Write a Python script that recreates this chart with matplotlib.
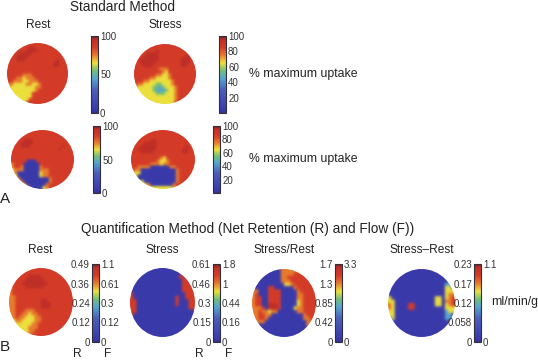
import numpy as np
import matplotlib
matplotlib.use('Agg')
from matplotlib import pyplot as plt
from matplotlib.cm import ScalarMappable
from matplotlib.colors import LinearSegmentedColormap, Normalize
from matplotlib.patches import Ellipse

W = 538
H = 362
plt.rcParams['font.family'] = ['Liberation Sans', 'DejaVu Sans']

# polar maps, one digit per cell: 0 = lowest tenth of the scale, 9 = top tenth
std_rest = ["88888888888888888888","88888889988888888888","88888899998888888888","88889999888888888888",
            "88899998888888888888","88899988888888889888","88888888888888899888","88888888888888899888",
            "88888888888888888888","88888888888888888888","88888777888888888888","88877677788888888888",
            "88777667778888888888","77666677667888888888","76666666677888888888","66666666678888888888",
            "66666666888888888888","66666666888888888888","66666668888888888888","66666688888888888888"]
std_stress = ["88888888888888888888","88888888888888888888","88888889888888888888","88889999888888888888",
              "88899999888888889988","88999999888888899988","88999998888888899988","88899988888888899888",
              "88888888777888888888","88888888876888888888","88888887766788888888","88888776666788888888",
              "88877666666678888888","87766665566678888888","76666655456667888888","66666654445667888888",
              "66666665556667888888","66666666666667888888","66666666666667888888","66666666666668888888"]
def_rest = ["88888888888888888888","88888888888888888888","88888888888888888888","88889998888888888888",
            "88899998888888888888","88899988888888889888","88888888888888898888","88888888888888888888",
            "88888888888888888888","88888888888888888888","88888000888888888888","78880000088888888888",
            "78870000078888888888","67770000077788888888","67000000067788888888","66000000067788888888",
            "66700000000078888888","66770000000078888888","66677000000788888888","66667700006788888888"]
def_stress = ["88888888888888888888","88888888888888888888","88888888888888888888","88888899888888888888",
              "88889999888888888888","88899999888888888988","88999999888888889988","88899998888888889988",
              "88888888888888888888","88888888876888888888","88888888766788888888","88888877767788888888",
              "88777700000077888888","87700000000000788888","76600000000000788888","66000000000000788888",
              "66000000000000788888","66660000000000788888","66666700000007888888","66666666666667888888"]
q_rest = ["88888888888888888888","88888888888888888888","88888899998888888888","88888999999888888888",
          "78889999999988888888","78888999999888888888","78888888888888888888","78888888888888888888",
          "77888888888888888888","77888888889988888888","77888888889998888888","77888888889998888888",
          "77888777888888888888","77887767788888888888","77877666778888888888","66776666778888888888",
          "66666667788888888888","66666677788888888888","66666677888888888888","66666678888888888888"]
q_stress = ["00000000000000000000","00000000000000000000","00000000000000088000","00000000000000008800",
            "00000000000000008880","00000000000000008888","00000000000000008888","80000000000000000888",
            "80000000000000800888","88000000000000800088","88000000000000800088","88000000000000000088",
            "88000000000000000000","80000000000000000000","00000000000000000000","00000000000000000000",
            "00000000000000000000","00000000000000000000","00000000000000000000","00000000000000000000"]
q_ratio = ["00000000077777777777","00000000077778888888","00000000077888888888","00000000077788888888",
           "00000000006678888888","00000880000007888888","77000888800000788888","78000888800000778888",
           "78800888800000778888","78800888800000678888","78800999800000678888","77780999800006778888",
           "77877677000000778888","77887700000000007888","77887000000000007788","77770000000000000778",
           "00000000000000000777","00000000000000000077","00000000000000000000","00000000000000000000"]
q_diff = ["00000000000000000000","00000000000000000000","00000000000000000000","00000000000000000000",
          "00000000000000000440","00000000000000000660","00000000000000000666","00000000000000000677",
          "60000000000000660678","66000000000000660778","76000088000000660678","76000088000000000666",
          "66000000000000000466","66000000000000000440","06000000000000000440","00000000000000000000",
          "00000000000000000000","00000000000000000000","00000000000000000000","00000000000000000000"]

ticks_3 = [0, 50, 100]
ticks_5 = [20, 40, 60, 80, 100]
rest_r = ['0', '0.12', '0.24', '0.36', '0.49']
rest_f = ['0', '0.12', '0.3', '0.61', '1.1']
stress_r = ['0', '0.15', '0.3', '0.46', '0.61']
stress_f = ['0', '0.16', '0.44', '1', '1.8']
ratio_r = ['0', '0.42', '0.85', '1.3', '1.7']
ratio_f = ['0', '', '', '', '3.3']
diff_r = ['0', '0.058', '0.12', '0.17', '0.23']
diff_f = ['0', '', '', '', '1.1']

stops = [(0, (55, 50, 150)), (.05, (58, 58, 172)), (.3, (75, 95, 185)), (.45, (85, 165, 205)),
         (.55, (115, 190, 120)), (.65, (236, 224, 62)), (.75, (232, 125, 45)), (.85, (212, 60, 40)),
         (.95, (195, 48, 40)), (1, (125, 30, 35))]
cmap = LinearSegmentedColormap.from_list('muted_jet', [(s, tuple(c / 255 for c in rgb)) for s, rgb in stops])

fig = plt.figure(figsize=(W / 100, H / 100), dpi=100)

def px_axes(x0, y0, x1, y1):
    return fig.add_axes([x0 / W, 1 - y1 / H, (x1 - x0) / W, (y1 - y0) / H])

def label(x, y, s, size=8.6, ha='center'):
    fig.text(x / W, 1 - y / H, s, fontsize=size, ha=ha, va='center', color='#222222')

def polar_map(rows, box):
    ax = px_axes(*box)
    vals = np.array([[int(c) + 0.5 for c in row] for row in rows]) / 10
    im = ax.imshow(vals, cmap=cmap, norm=Normalize(0, 1), aspect='auto', extent=(0, 1, 0, 1),
                   interpolation='gaussian', interpolation_stage='rgba')
    im.set_clip_path(Ellipse((.5, .5), 1, 1, transform=ax.transAxes))
    ax.axis('off')

def colorbar(box, ticks, labels=None, left=None):
    cax = px_axes(*box)
    lo, hi = ticks[0], ticks[-1]
    if labels is None:
        lo = 0
    cb = fig.colorbar(ScalarMappable(Normalize(lo, hi), cmap), cax=cax)
    cb.outline.set_linewidth(.8)
    cb.outline.set_edgecolor('#30303a')
    cb.set_ticks(ticks)
    if labels is not None:
        cb.set_ticklabels(labels)
    if left is not None:
        tw = cax.twinx()
        tw.set_ylim(cax.get_ylim())
        tw.yaxis.tick_left()
        tw.set_yticks(ticks)
        tw.set_yticklabels(left)
        tw.tick_params(length=0, pad=1.5, labelsize=7, labelcolor='#333333')
        for s in tw.spines.values():
            s.set_visible(False)
        cax.yaxis.tick_right()
    cax.tick_params(length=0, pad=1.5, labelsize=7, labelcolor='#333333')

polar_map(std_rest, (7, 43, 68, 104))
polar_map(std_stress, (134, 44, 196, 104))
polar_map(def_rest, (11, 130, 74, 189))
polar_map(def_stress, (131, 130, 195, 189))
polar_map(q_rest, (9, 268, 73, 336))
polar_map(q_stress, (130, 268, 195, 337))
polar_map(q_ratio, (252, 269, 316, 337))
polar_map(q_diff, (388, 269, 455, 337))

colorbar((91, 36, 98, 113), ticks_3)
colorbar((219, 36, 226, 113), ticks_5)
colorbar((93, 126, 100, 193), ticks_3)
colorbar((213, 126, 220, 193), ticks_5)
pos5 = [0, 1, 2, 3, 4]
colorbar((92, 264, 99, 342), pos5, rest_f, rest_r)
colorbar((213, 264, 220, 342), pos5, stress_f, stress_r)
colorbar((335, 264, 342, 342), pos5, ratio_f, ratio_r)
colorbar((474, 264, 481, 342), pos5, diff_f, diff_r)

label(123, 7, 'Standard Method', 9.8)
label(38, 25, 'Rest')
label(165, 25, 'Stress')
label(249, 74, '% maximum uptake', 8.8, 'left')
label(249, 159, '% maximum uptake', 8.8, 'left')
label(0, 199, 'A', 11, 'left')
label(248, 229, 'Quantification Method (Net Retention (R) and Flow (F))', 9.85)
label(40, 250, 'Rest')
label(162, 250, 'Stress')
label(284, 250, 'Stress/Rest')
label(422, 250, 'Stress\u2013Rest')
label(0, 347, 'B', 11, 'left')
for x, s in [(77, 'R'), (108, 'F'), (199, 'R'), (229, 'F')]:
    label(x, 354, s, 8.6)
label(491, 302, 'ml/min/g', 8.8, 'left')

fig.savefig('out.png', dpi=100)
